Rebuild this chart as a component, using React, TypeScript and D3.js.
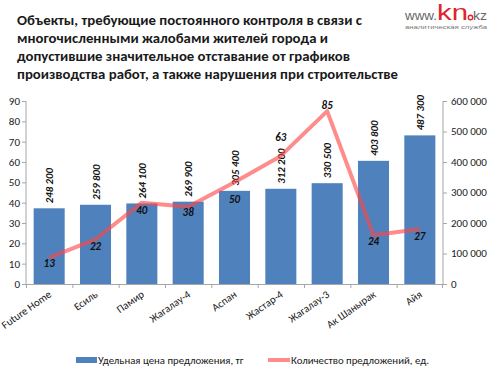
import React from "react";
import * as d3 from "d3";

const categories = ["Future Home", "Есиль", "Памир", "Жагалау-4", "Аспан", "Жастар-4", "Жагалау-3", "Ак Шанырак", "Айя"];
const priceValues = [248200, 259800, 264100, 269900, 305400, 312200, 330500, 403800, 487300];
const countValues = [13, 22, 40, 38, 50, 63, 85, 24, 27];
const leftTicks = [0, 10, 20, 30, 40, 50, 60, 70, 80, 90];
const rightTicks = [0, 100000, 200000, 300000, 400000, 500000, 600000];
const titleLines = [
  "Объекты, требующие постоянного контроля в связи с",
  "многочисленными жалобами жителей города и",
  "допустившие значительное отставание от графиков",
  "производства работ, а также нарушения при строительстве",
];
const legendLabels = ["Удельная цена предложения, тг", "Количество предложений, ед."];
// label vertical offsets for count labels (style)
const countLabelDy = [6, 7, 7, 5, 17, -19, -6, 6, 7];
const titleWidths = [345, 311, 333, 381];

const fmt = (v: number) => d3.format(",")(v).replace(/,/g, " ");

export default function App() {
  const W = 500, H = 376;
  const left = 26, right = 443, top = 101, bottom = 284;
  const x = d3.scaleBand<string>().domain(categories).range([left, right]).paddingInner(0.33).paddingOuter(0.165);
  const xb = d3.scaleBand<string>().domain(categories).range([left, right]);
  const yL = d3.scaleLinear().domain([0, 90]).range([bottom, top]);
  const yR = d3.scaleLinear().domain([0, 600000]).range([bottom, top]);
  const line = d3.line<number>().x((_, i) => (xb(categories[i]) as number) + xb.bandwidth() / 2).y((d) => yL(d));
  const font = "Calibri, Carlito, 'Open Sans', sans-serif";
  const axisColor = "#a6a6a6";
  const textColor = "#1a1a1a";
  const logoFont = "'Liberation Sans', Arial, sans-serif";
  return (
    <svg width={W} height={H} style={{ position: "absolute", left: 0, top: 0 }} fontFamily={font}>
      <rect width={W} height={H} fill="#fff" />
      {titleLines.map((t, i) => (
        <text key={i} x={17} y={25 + i * 18} fontSize={14.5} fontWeight="bold" fill="#1a1a1a"
          textLength={titleWidths[i]} lengthAdjust="spacingAndGlyphs">{t}</text>
      ))}
      {/* logo */}
      <text x={405} y={20} fontSize={12} fill="#666" fontFamily={logoFont} textLength={32} lengthAdjust="spacingAndGlyphs">www.</text>
      <text x={437} y={20} fontSize={22} fill="#e0242b" fontFamily={logoFont} textLength={31} lengthAdjust="spacingAndGlyphs">kn</text>
      <circle cx={470.5} cy={17.5} r={2.2} fill="none" stroke="#e0242b" strokeWidth={1.4} />
      <text x={473} y={20} fontSize={12} fill="#666" fontFamily={logoFont} textLength={14} lengthAdjust="spacingAndGlyphs">kz</text>
      <text x={405} y={28.5} fontSize={6} fill="#777" fontFamily={logoFont} textLength={82} lengthAdjust="spacingAndGlyphs">аналитическая служба</text>

      {/* bars */}
      {priceValues.map((v, i) => (
        <rect key={i} x={x(categories[i])} y={yR(v)} width={x.bandwidth()} height={bottom - yR(v)} fill="#4f81bd" />
      ))}
      {/* axes */}
      <line x1={left} x2={left} y1={top} y2={bottom} stroke={axisColor} />
      <line x1={right} x2={right} y1={top} y2={bottom} stroke={axisColor} />
      <line x1={left} x2={right} y1={bottom + 0.5} y2={bottom + 0.5} stroke={axisColor} />
      {leftTicks.map((t) => (
        <g key={t}>
          <line x1={left - 4} x2={left} y1={yL(t) + 0.5} y2={yL(t) + 0.5} stroke={axisColor} />
          <text x={20} y={yL(t)} dy="0.35em" textAnchor="end" fontSize={11} fill={textColor}>{t}</text>
        </g>
      ))}
      {rightTicks.map((t) => (
        <g key={t}>
          <line x1={right} x2={right + 4} y1={yR(t) + 0.5} y2={yR(t) + 0.5} stroke={axisColor} />
          <text x={451} y={yR(t)} dy="0.35em" textAnchor="start" fontSize={11} fill={textColor}>{fmt(t)}</text>
        </g>
      ))}
      {categories.map((c, i) => (
        <line key={i} x1={(xb(c) as number) + 0.5} x2={(xb(c) as number) + 0.5} y1={bottom} y2={bottom + 4} stroke={axisColor} />
      ))}
      <line x1={right - 0.5} x2={right - 0.5} y1={bottom} y2={bottom + 4} stroke={axisColor} />
      {categories.map((c, i) => {
        const cx = (xb(c) as number) + xb.bandwidth() / 2 + 3;
        return (
          <text key={c} transform={`translate(${cx},${bottom + 12}) rotate(-35)`} textAnchor="end" fontSize={10.8} fill={textColor}>{c}</text>
        );
      })}
      {/* bar labels */}
      {priceValues.map((v, i) => {
        const cx = (x(categories[i]) as number) + x.bandwidth() / 2 + 4;
        return (
          <text key={i} transform={`translate(${cx},${yR(v) - 5}) rotate(-90)`} fontSize={10.8} fontStyle="italic" fontWeight="bold" fill="#111">{fmt(v)}</text>
        );
      })}
      {/* line */}
      <path d={line(countValues) as string} fill="none" stroke="rgba(255,70,70,0.62)" strokeWidth={4} strokeLinejoin="round" />
      {countValues.map((v, i) => {
        const cx = (xb(categories[i]) as number) + xb.bandwidth() / 2;
        return (
          <text key={i} x={cx} y={yL(v) + countLabelDy[i]} dy="0.35em" textAnchor="middle" fontSize={11} fontStyle="italic" fontWeight="bold" fill="#111">{v}</text>
        );
      })}
      {/* legend */}
      <rect x={76} y={357} width={21} height={6} fill="#4f81bd" />
      <text x={98} y={360} dy="0.35em" fontSize={10.8} fill={textColor}>{legendLabels[0]}</text>
      <line x1={268} x2={290} y1={360} y2={360} stroke="rgba(255,70,70,0.62)" strokeWidth={4} />
      <text x={291} y={360} dy="0.35em" fontSize={10.8} fill={textColor}>{legendLabels[1]}</text>
    </svg>
  );
}
